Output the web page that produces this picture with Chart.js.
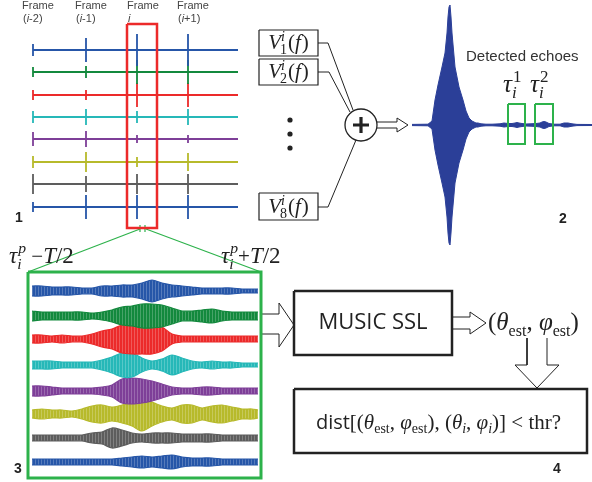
<!DOCTYPE html>
<html>
<head>
<meta charset="utf-8">
<script src="https://cdn.jsdelivr.net/npm/chart.js@4.4.1/dist/chart.umd.min.js"></script>
<style>
  body { margin: 0; background: #fff; }
</style>
</head>
<body>
<canvas id="diagram" width="592" height="482"></canvas>
<script>
// ---- panel 1: eight channels, four frames ----
const frameX = [33, 86, 137, 188]
const p1Rows = [50, 72, 95, 117, 139, 162, 184, 207]
const p1End = 238
const p1Spikes = [
    [6, 12, 16, 16],
    [5, 6, 12, 12],
    [5, 5, 12, 12],
    [6, 8, 6, 8],
    [7, 8, 4, 4],
    [6, 10, 5, 9],
    [10, 8, 10, 10],
    [5, 12, 12, 12],
]
const frameTitles = ['Frame', 'Frame', 'Frame', 'Frame']
const frameIdx = ['(i-2)', '(i-1)', 'i', '(i+1)']

const chColors = ['#2656a8', '#13893d', '#ec2a2a', '#26b8b8', '#7e3f98', '#b7ba2b', '#5d5d5d', '#2656a8']

// ---- panel 2: summed signal ----
const burstX = [412, 428, 432, 435, 438, 442, 445, 447, 448, 449, 450, 451, 452, 455, 459, 463, 466, 469, 472, 476, 478, 481, 486, 492, 500, 504, 508, 512, 515, 517, 519, 522, 526, 531, 536, 540, 542, 544, 546, 549, 554, 560, 564, 568, 572, 577, 592]
const burstEnv = [0.6, 0.8, 4, 25, 40, 58, 72, 92, 108, 118, 120, 108, 92, 58, 38, 25, 14, 7, 4, 2, 2, 1.2, 0.8, 0.8, 1.2, 2, 1.5, 1.5, 2, 2.5, 2, 1.5, 1, 1.2, 1.5, 2, 3, 3.5, 3, 1.5, 0.8, 0.8, 2, 2, 1.2, 0.6, 0.5]
const burstRow = 125
const echoBoxes = [[508, 104, 525, 144], [535, 104, 553, 144]]
const echoLabels = ['1', '2']
const vBoxes = [[259, 30, 318, 56], [259, 59, 318, 85], [259, 193, 318, 220]]
const vLabels = ['1', '2', '8']
const vWires = [
    [[318, 43], [328, 43], [353, 110]],
    [[318, 72], [329, 72], [350, 112]],
    [[318, 207], [328, 207], [356, 140]],
]
const sumNode = [361, 125, 16]
const ellipsisY = [120, 134, 148]

// ---- panel 3: window around echo p ----
const p3X = [32, 42, 52, 62, 72, 82, 92, 102, 112, 122, 132, 142, 152, 162, 172, 182, 192, 202, 212, 222, 232, 242, 252, 258]
const p3Rows = [291, 316, 339, 365, 391, 414, 438, 462]
const p3Env = [
    [5, 5, 4, 4, 4, 3, 3, 5, 5, 6, 6, 8, 11, 8, 6, 5, 4, 3, 3, 3, 3, 2, 2, 2],
    [5, 4, 4, 4, 4, 4, 3, 4, 6, 9, 10, 12, 12, 11, 8, 5, 5, 6, 7, 5, 4, 4, 4, 4],
    [4, 4, 3, 4, 3, 3, 5, 8, 10, 14, 15, 15, 15, 12, 5, 3, 3, 3, 3, 3, 3, 3, 3, 3],
    [4, 4, 4, 3, 3, 3, 3, 5, 8, 12, 12, 7, 4, 6, 10, 7, 4, 3, 4, 3, 3, 2, 2, 2],
    [5, 5, 4, 3, 3, 3, 3, 4, 6, 12, 13, 12, 10, 7, 4, 3, 3, 4, 4, 3, 3, 3, 3, 3],
    [4, 5, 4, 4, 3, 5, 8, 9, 7, 9, 12, 17, 12, 8, 6, 9, 9, 6, 8, 9, 7, 5, 5, 4],
    [3, 3, 3, 3, 3, 3, 5, 6, 10, 8, 5, 4, 5, 5, 5, 4, 4, 4, 4, 3, 3, 3, 3, 3],
    [3, 3, 3, 3, 3, 3, 3, 3, 3, 4, 5, 6, 5, 6, 7, 5, 4, 4, 4, 3, 3, 3, 3, 3],
]
const p3Frame = [28, 272, 261, 478]
const zoomLines = [[[28, 272], [140, 229]], [[146, 229], [261, 272]]]
const redFrame = [127, 24, 157, 228]

// ---- panel 4: localisation check ----
const musicBox = [294, 291, 452, 355]
const distBox = [294, 389, 587, 453]
const arrows = [
    [[377, 122], [397, 122], [397, 118], [408, 125], [397, 132], [397, 128], [377, 128]],
    [[261, 314], [279, 314], [279, 303], [294, 325], [279, 347], [279, 334], [261, 334]],
    [[453, 317], [470, 317], [470, 312], [486, 323], [470, 334], [470, 329], [453, 329]],
    [[527, 338], [527, 365], [515, 365], [537, 388], [559, 365], [547, 365], [547, 338]],
]
const panelNums = [['1', 15, 222], ['2', 559, 223], ['3', 14, 473], ['4', 553, 473]]

// ---------------------------------------------------------------
const canvas = document.getElementById('diagram')
const ctx = canvas.getContext('2d')

function lighten(hex, k) {
    const n = parseInt(hex.slice(1), 16)
    const c = [(n >> 16) & 255, (n >> 8) & 255, n & 255].map((v) => Math.round(v + (255 - v) * k))
    return 'rgb(' + c.join(',') + ')'
}

// vertical stripes so a filled envelope looks like a dense oscillation
function stripes(hex) {
    const p = document.createElement('canvas')
    p.width = 3
    p.height = 1
    const g = p.getContext('2d')
    g.fillStyle = hex
    g.fillRect(0, 0, 3, 1)
    g.fillStyle = lighten(hex, 0.22)
    g.fillRect(2, 0, 1, 1)
    return ctx.createPattern(p, 'repeat')
}

function pts(list) {
    return list.map(([x, y]) => ({ x, y }))
}
function rect([x0, y0, x1, y1]) {
    return pts([[x0, y0], [x1, y0], [x1, y1], [x0, y1], [x0, y0]])
}
function shape(data, color, width, order = 0) {
    return {
        data,
        borderColor: color,
        borderWidth: width,
        borderJoinStyle: 'miter',
        fill: false,
        order,
    }
}

const datasets = []

// panel 1 traces with frame spikes
p1Rows.forEach((row, r) => {
    const data = []
    frameX.forEach((fx, f) => {
        const h = p1Spikes[r][f]
        data.push({ x: fx, y: row }, { x: fx, y: row - h }, { x: fx, y: row + h }, { x: fx, y: row })
    })
    data.push({ x: p1End, y: row })
    datasets.push(shape(data, chColors[r], 1.8, 5))
})

// panel 2 waveform
datasets.push(shape(pts([[412, burstRow], [592, burstRow]]), '#6276c4', 1.2, 6))
datasets.push({
    data: burstX.map((x, i) => ({ x, y: burstRow - burstEnv[i] })),
    borderColor: '#2b3f98',
    borderWidth: 1,
    fill: false,
    order: 4,
})
datasets.push({
    data: burstX.map((x, i) => ({ x, y: burstRow + burstEnv[i] })),
    borderColor: '#2b3f98',
    borderWidth: 1,
    backgroundColor: '#2b3f98',
    fill: '-1',
    order: 4,
})

// panel 3 envelopes
p3Rows.forEach((row, r) => {
    const env = p3Env[r]
    datasets.push({
        data: p3X.map((x, i) => ({ x, y: row - env[i] })),
        borderColor: chColors[r],
        borderWidth: 1.2,
        fill: false,
        tension: 0.3,
        order: 5,
    })
    datasets.push({
        data: p3X.map((x, i) => ({ x, y: row + env[i] })),
        borderColor: chColors[r],
        borderWidth: 1.2,
        backgroundColor: stripes(chColors[r]),
        fill: '-1',
        tension: 0.3,
        order: 5,
    })
})

// frames, boxes, wires, arrows
datasets.push(shape(rect(redFrame), '#ec2a2a', 2.5, 0))
datasets.push(shape(rect(p3Frame), '#2db24b', 3, 0))
zoomLines.forEach((l) => datasets.push(shape(pts(l), '#2db24b', 1.2, 1)))
datasets.push(shape(pts([[140, 225], [140, 232]]), '#2db24b', 1.2, 1))
datasets.push(shape(pts([[145, 225], [145, 232]]), '#2db24b', 1.2, 1))
echoBoxes.forEach((b) => datasets.push(shape(rect(b), '#2db24b', 2, 0)))
vBoxes.forEach((b) => datasets.push(shape(rect(b), '#222', 1.2, 0)))
vWires.forEach((w) => datasets.push(shape(pts(w), '#222', 1, 1)))
arrows.forEach((a) => datasets.push(shape(pts(a), '#222', 1, 1)))
datasets.push(shape(rect(musicBox), '#222', 2.5, 0))
datasets.push(shape(rect(distBox), '#222', 2.5, 0))

// ---- rich (math-like) text ----
const SERIF = '"Liberation Serif", serif'
const SANS = '"Open Sans", sans-serif'
function M(size, italic) {
    return (italic ? 'italic ' : '') + size + 'px ' + SERIF
}
function partWidth(c, p) {
    if (p.t !== undefined) {
        c.font = p.f
        return c.measureText(p.t).width + (p.gap || 0)
    }
    let w = 0
    for (const k of ['sub', 'sup']) {
        if (p[k]) {
            c.font = p[k].f
            w = Math.max(w, c.measureText(p[k].t).width)
        }
    }
    return w + (p.gap || 0)
}
function drawRich(c, parts, x, y, align, color) {
    const w = parts.reduce((s, p) => s + partWidth(c, p), 0)
    let cx = align === 'center' ? x - w / 2 : align === 'right' ? x - w : x
    c.fillStyle = color || '#222'
    c.textAlign = 'left'
    c.textBaseline = 'alphabetic'
    for (const p of parts) {
        if (p.t !== undefined) {
            c.font = p.f
            c.fillText(p.t, cx, y + (p.dy || 0))
        } else {
            if (p.sub) {
                c.font = p.sub.f
                c.fillText(p.sub.t, cx + (p.sub.dx || 0), y + p.sub.dy)
            }
            if (p.sup) {
                c.font = p.sup.f
                c.fillText(p.sup.t, cx + (p.sup.dx || 0), y + p.sup.dy)
            }
        }
        cx += partWidth(c, p)
    }
}
function vParts(n) {
    return [
        { t: 'V', f: M(21, true), gap: -1 },
        { sub: { t: n, f: M(14), dy: 5 }, sup: { t: 'i', f: M(14, true), dy: -8, dx: 1 }, gap: 1 },
        { t: '(', f: M(21) },
        { t: 'f', f: M(21, true), gap: 1 },
        { t: ')', f: M(21) },
    ]
}
function tauParts(sup, sub, supItalic, size) {
    const s = size || 22
    return [
        { t: 'τ', f: M(s, true) },
        { sub: { t: sub, f: M(s * 0.68, true), dy: 6 }, sup: { t: sup, f: M(s * 0.68, supItalic), dy: -s * 0.42, dx: 1 }, gap: 1 },
    ]
}
const estParts = (sym) => [
    { t: sym, f: M(25, true) },
    { sub: { t: 'est', f: M(16), dy: 6 } },
]
const thetaPhiEst = [
    { t: '(', f: M(25) },
    ...estParts('θ'),
    { t: ', ', f: M(25) },
    ...estParts('φ'),
    { t: ')', f: M(25) },
]
const iParts = (sym) => [
    { t: sym, f: M(21, true) },
    { sub: { t: 'i', f: M(14, true), dy: 4 } },
]
const distParts = [
    { t: 'dist', f: '20px ' + SANS },
    { t: '[(', f: M(21) },
    { t: 'θ', f: M(21, true) },
    { sub: { t: 'est', f: M(14), dy: 4 } },
    { t: ', ', f: M(21) },
    { t: 'φ', f: M(21, true) },
    { sub: { t: 'est', f: M(14), dy: 4 } },
    { t: '), (', f: M(21) },
    ...iParts('θ'),
    { t: ', ', f: M(21) },
    ...iParts('φ'),
    { t: ')] < thr?', f: M(21) },
]

const overlayPlugin = {
    id: 'overlayPlugin',
    afterDatasetsDraw(chart) {
        const c = chart.ctx
        const sx = chart.scales.x
        const sy = chart.scales.y
        const X = (v) => sx.getPixelForValue(v)
        const Y = (v) => sy.getPixelForValue(v)
        c.save()

        // frame headings
        frameX.forEach((fx, i) => {
            const left = X(fx) - 11 + (i === 2 ? 1 : 0)
            c.font = '11px "Liberation Sans", sans-serif'
            c.fillStyle = '#444'
            c.textAlign = 'left'
            c.fillText(frameTitles[i], left, Y(9))
            const segs = frameIdx[i].split('i')
            drawRich(c, [
                { t: segs[0], f: '11px "Liberation Sans", sans-serif' },
                { t: 'i', f: 'italic 11px "Liberation Sans", sans-serif' },
                { t: segs[1], f: '11px "Liberation Sans", sans-serif' },
            ], left + 1, Y(22), 'left', '#444')
        })

        // summing node
        const [cx0, cy0, r0] = sumNode
        c.beginPath()
        c.arc(X(cx0), Y(cy0), r0, 0, Math.PI * 2)
        c.fillStyle = '#fff'
        c.fill()
        c.lineWidth = 1.3
        c.strokeStyle = '#222'
        c.stroke()
        c.lineWidth = 3.2
        c.beginPath()
        c.moveTo(X(cx0) - 8, Y(cy0))
        c.lineTo(X(cx0) + 8, Y(cy0))
        c.moveTo(X(cx0), Y(cy0) - 8)
        c.lineTo(X(cx0), Y(cy0) + 8)
        c.stroke()

        // vertical ellipsis
        c.fillStyle = '#222'
        ellipsisY.forEach((y) => {
            c.beginPath()
            c.arc(X(290), Y(y), 2.6, 0, Math.PI * 2)
            c.fill()
        })

        // V labels
        vBoxes.forEach((b, i) => {
            drawRich(c, vParts(vLabels[i]), X((b[0] + b[2]) / 2), Y(b[3] - 7), 'center')
        })

        // detected echoes
        c.font = '15px "Liberation Sans", sans-serif'
        c.fillStyle = '#333'
        c.textAlign = 'left'
        c.fillText('Detected echoes', X(466), Y(61))
        echoBoxes.forEach((b, i) => {
            drawRich(c, tauParts(echoLabels[i], 'i', false, 25), X(b[0] - 5), Y(92), 'left')
        })

        // window limits
        drawRich(c, [...tauParts('p', 'i', true, 23), { t: ' −', f: M(21) }, { t: 'T', f: M(23, true) }, { t: '/2', f: M(23) }], X(9), Y(263), 'left')
        drawRich(c, [...tauParts('p', 'i', true, 23), { t: '+', f: M(21) }, { t: 'T', f: M(23, true) }, { t: '/2', f: M(23) }], X(221), Y(263), 'left')

        // MUSIC SSL
        c.font = '22px ' + SANS
        c.fillStyle = '#222'
        c.textAlign = 'center'
        c.textBaseline = 'middle'
        c.fillText('MUSIC SSL', X((musicBox[0] + musicBox[2]) / 2), Y((musicBox[1] + musicBox[3]) / 2))

        drawRich(c, thetaPhiEst, X(488), Y(330), 'left')
        drawRich(c, distParts, X((distBox[0] + distBox[2]) / 2 - 2), Y(429), 'center')

        // panel numbers
        c.font = 'bold 14px "Liberation Sans", sans-serif'
        c.fillStyle = '#222'
        c.textAlign = 'left'
        c.textBaseline = 'alphabetic'
        panelNums.forEach(([t, x, y]) => c.fillText(t, X(x), Y(y)))

        c.restore()
    },
}

const diagram = new Chart(ctx, {
    type: 'line',
    data: { datasets },
    options: {
        responsive: false,
        animation: false,
        events: [],
        layout: { padding: 0 },
        elements: {
            point: { radius: 0 },
            line: { tension: 0 },
        },
        plugins: {
            legend: { display: false },
            tooltip: { enabled: false },
        },
        scales: {
            x: { type: 'linear', min: 0, max: 592, display: false },
            y: { type: 'linear', min: 0, max: 482, reverse: true, display: false },
        },
    },
    plugins: [overlayPlugin],
})
</script>
</body>
</html>
